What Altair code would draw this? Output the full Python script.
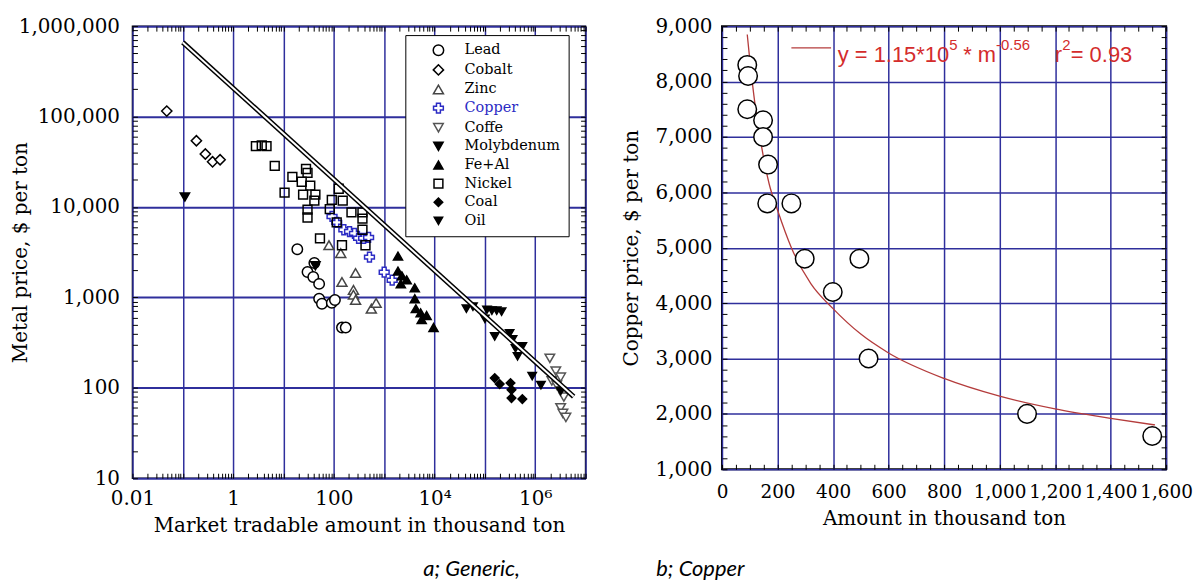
import altair as alt
import pandas as pd

SERIF = "DejaVu Serif"
GRID = "#2f2f9c"
RED = "#d42c2c"
CURVE = "#b43c3c"

# ---------------- panel a: generic ----------------
series = ["Lead", "Cobalt", "Zinc", "Copper", "Coffe", "Molybdenum", "Fe+Al", "Nickel", "Coal", "Oil"]

lead_x = [18.8, 41, 30, 39, 51, 51, 58, 91, 105, 145, 172]
lead_y = [3410, 2400, 1910, 1680, 1410, 966, 850, 870, 935, 464, 464]

cobalt_x = [0.048, 0.186, 0.28, 0.39, 0.55]
cobalt_y = [115000, 54000, 38500, 31600, 33300]

zinc_x = [80, 137, 270, 145, 245, 245, 270, 555, 690]
zinc_y = [3780, 3090, 1860, 1480, 1210, 1070, 935, 750, 870]

copper_x = [92, 114, 158, 205, 257, 310, 390, 490, 510, 1000, 1440]
copper_y = [7850, 6760, 5600, 5350, 5100, 4500, 4500, 4600, 2790, 1900, 1550]

coffe_x = [1.95e6, 2.56e6, 3.2e6, 2.14e6, 2.68e6, 3.2e6, 3.7e6, 3.2e6, 3.55e6, 4.07e6]
coffe_y = [212, 153, 131, 119, 107, 92, 79, 60, 52, 47]

moly_x = [0.11, 43]
moly_y = [12900, 2240]

feal_x = [1880, 1880, 2250, 2800, 2140, 4050, 4050, 4250, 5300, 6950, 5560, 9550]
feal_y = [2860, 1950, 1730, 1560, 1410, 1275, 966, 750, 675, 630, 568, 464]

nickel_x = [2.83, 3.7, 4.6, 6.7, 15, 10.5, 28, 30, 23, 34, 24.5, 43, 41, 30, 30,
            91, 125, 150, 83, 114, 224, 370, 370, 370, 53, 145, 425]
nickel_y = [47100, 48000, 47100, 28500, 21500, 14400, 26300, 23800, 19000, 17200, 13700, 13700, 11750, 9340, 7650,
            12000, 15900, 11750, 9450, 6760, 8700, 8700, 7420, 5600, 4500, 3770, 3770]

coal_x = [157000, 197000, 323000, 338000, 338000, 555000]
coal_y = [128, 110, 113, 95, 77, 75]

oil_x = [43000, 58000, 100000, 110000, 138000, 172000, 215000, 157000, 310000, 355000,
         405000, 445000, 555000, 870000, 1.3e6, 3.2e6]
oil_y = [750, 790, 580, 730, 713, 713, 695, 370, 400, 343, 273, 223, 287, 135, 107, 92]

trend_x = [0.1, 5.8e6]
trend_y = [6.6e5, 80]

# marker styling per series
shapes = ["circle", "diamond", "triangle-up", "cross", "triangle-down", "triangle-down",
          "triangle-up", "square", "diamond", "triangle-down"]
fills = ["white", "white", "white", "white", "white", "black", "black", "transparent", "black", "black"]
strokes = ["black", "black", "#454545", "#2b2bc4", "#555555", "black", "black", "black", "black", "black"]
sizes = [110, 70, 120, 55, 90, 170, 100, 90, 45, 60]

# ---------------- panel b: copper ----------------
cu_amount = [91, 94, 91, 148, 148, 166, 163, 250, 298, 495, 399, 528, 1099, 1550]
cu_price = [8300, 8100, 7500, 7300, 7000, 6500, 5800, 5800, 4800, 4800, 4200, 3000, 2000, 1600]

fit_amount = [91, 100, 120, 140, 170, 200, 250, 320, 400, 500, 600, 800, 1000, 1200, 1400, 1560]
fit_price = [8850, 8400, 7550, 6900, 6150, 5680, 5000, 4350, 3900, 3440, 3100, 2640, 2320, 2090, 1920, 1800]

legend_line_amount = [250, 393]
legend_line_price = [8609]
eq_anchor_amount = [417]
eq_anchor_price = [8360]

# ================= build panel a =================
pairs = [(lead_x, lead_y), (cobalt_x, cobalt_y), (zinc_x, zinc_y), (copper_x, copper_y),
         (coffe_x, coffe_y), (moly_x, moly_y), (feal_x, feal_y), (nickel_x, nickel_y),
         (coal_x, coal_y), (oil_x, oil_y)]
rows = []
for name, (xs, ys) in zip(series, pairs):
    for a, b in zip(xs, ys):
        rows.append({"series": name, "amount": a, "price": b})
df_a = pd.DataFrame(rows)
df_trend = pd.DataFrame({"amount": trend_x, "price": trend_y})

xa = alt.Scale(type="log", domain=[0.01, 1e7], nice=False)
ya = alt.Scale(type="log", domain=[10, 1e6], nice=False)

major_x = [0.01, 0.1, 1, 10, 100, 1000, 10000, 100000, 1000000, 10000000]
major_y = [10, 100, 1000, 10000, 100000, 1000000]
minor_x = [k * 10.0 ** d for d in range(-2, 7) for k in range(1, 10)] + [1e7]
minor_y = [k * 10.0 ** d for d in range(1, 6) for k in range(1, 10)] + [1e6]

x_lbl = ("datum.value == 0.01 ? '0.01' : datum.value == 1 ? '1' : datum.value == 100 ? '100' : "
         "datum.value == 10000 ? '10\u2074' : datum.value == 1000000 ? '10\u2076' : ''")

ax_a_x = alt.Axis(orient="bottom", values=major_x, labelExpr=x_lbl, grid=True, gridColor=GRID,
                  gridWidth=1.5, gridOpacity=1, ticks=False, domain=False, labelFont=SERIF,
                  labelFontSize=20, labelColor="black", labelPadding=10, labelFlush=False,
                  labelOverlap=False, title="Market tradable amount in thousand ton",
                  titleFont=SERIF, titleFontSize=20, titleFontWeight="normal", titleColor="black",
                  titlePadding=8)
ax_a_y = alt.Axis(orient="left", values=major_y, format=",.0f", grid=True, gridColor=GRID,
                  gridWidth=2, gridOpacity=1, ticks=False, domain=False, labelFont=SERIF,
                  labelFontSize=20, labelColor="black", labelPadding=13, labelFlush=False,
                  labelOverlap=False, title="Metal price, $ per ton", titleFont=SERIF,
                  titleFontSize=20, titleFontWeight="normal", titleColor="black", titlePadding=-12)


def tick_axis(orient, values):
    return alt.Axis(orient=orient, values=values, labels=False, grid=False, domain=False,
                    ticks=True, tickSize=5, tickColor="black", tickWidth=1, offset=-5, title=None)


leg = alt.Legend(title=None, orient="none", legendX=274, legendY=9, fillColor="white",
                 strokeColor="black", padding=8, labelFont=SERIF, labelFontSize=14.5,
                 labelColor={"expr": "datum.label == 'Copper' ? '#2b2bc4' : 'black'"},
                 symbolStrokeWidth=1.5, rowPadding=2.7, labelOffset=19, symbolOffset=18)

points_a = alt.Chart(df_a).mark_point(filled=True, strokeWidth=1.5, opacity=1).encode(
    x=alt.X("amount:Q", scale=xa, axis=ax_a_x),
    y=alt.Y("price:Q", scale=ya, axis=ax_a_y),
    shape=alt.Shape("series:N", scale=alt.Scale(domain=series, range=shapes), legend=leg),
    fill=alt.Fill("series:N", scale=alt.Scale(domain=series, range=fills)),
    stroke=alt.Stroke("series:N", scale=alt.Scale(domain=series, range=strokes)),
    size=alt.Size("series:N", scale=alt.Scale(domain=series, range=sizes)),
)

ticks_a1 = alt.Chart(df_a).mark_point(opacity=0).encode(
    x=alt.X("amount:Q", scale=xa, axis=tick_axis("bottom", minor_x)),
    y=alt.Y("price:Q", scale=ya, axis=tick_axis("left", minor_y)),
)
ticks_a2 = alt.Chart(df_a).mark_point(opacity=0).encode(
    x=alt.X("amount:Q", scale=xa, axis=tick_axis("top", minor_x)),
    y=alt.Y("price:Q", scale=ya, axis=tick_axis("right", minor_y)),
)

trend_black = alt.Chart(df_trend).mark_line(color="black", strokeWidth=5, strokeCap="butt").encode(
    x=alt.X("amount:Q", scale=xa, axis=None), y=alt.Y("price:Q", scale=ya, axis=None))
trend_white = alt.Chart(df_trend).mark_line(color="white", strokeWidth=2, strokeCap="butt").encode(
    x=alt.X("amount:Q", scale=xa, axis=None), y=alt.Y("price:Q", scale=ya, axis=None))

cap_a = alt.Chart(pd.DataFrame({"t": ["a; Generic,"]})).mark_text(
    font="Lato", fontStyle="italic", fontSize=22, align="left", baseline="alphabetic", color="black"
).encode(x=alt.value(292), y=alt.value(552), text="t:N")

left = alt.layer(ticks_a1, ticks_a2, points_a, trend_black, trend_white, cap_a).resolve_axis(
    x="independent", y="independent"
).properties(width=455, height=454, view=alt.ViewBackground(stroke="black", strokeWidth=1.5))

# ================= build panel b =================
df_cu = pd.DataFrame({"amount": cu_amount, "price": cu_price})
df_fit = pd.DataFrame({"amount": fit_amount, "price": fit_price})
df_legline = pd.DataFrame({"amount": [legend_line_amount[0]], "amount2": [legend_line_amount[1]],
                           "price": legend_line_price})
df_eq = pd.DataFrame({"amount": eq_anchor_amount, "price": eq_anchor_price})

xb = alt.Scale(domain=[0, 1600], nice=False, zero=False)
yb = alt.Scale(domain=[1000, 9000], nice=False, zero=False)

ax_b_x = alt.Axis(orient="bottom", values=list(range(0, 1601, 200)), format=",d", grid=True,
                  gridColor=GRID, gridWidth=1.5, gridOpacity=1, ticks=False, domain=False,
                  labelFont=SERIF, labelFontSize=18.5, labelColor="black", labelPadding=13,
                  labelFlush=False, labelOverlap=False, title="Amount in thousand ton",
                  titleFont=SERIF, titleFontSize=20, titleFontWeight="normal", titleColor="black",
                  titlePadding=8)
ax_b_y = alt.Axis(orient="left", values=list(range(1000, 9001, 1000)), format=",d", grid=True,
                  gridColor=GRID, gridWidth=1.5, gridOpacity=1, ticks=False, domain=False,
                  labelFont=SERIF, labelFontSize=20, labelColor="black", labelPadding=10,
                  labelFlush=False, labelOverlap=False, title="Copper price, $ per ton",
                  titleFont=SERIF, titleFontSize=20, titleFontWeight="normal", titleColor="black",
                  titlePadding=14)

minor_bx = list(range(0, 1601, 50))
minor_by = list(range(1000, 9001, 200))

ticks_b1 = alt.Chart(df_cu).mark_point(opacity=0).encode(
    x=alt.X("amount:Q", scale=xb, axis=tick_axis("bottom", minor_bx)),
    y=alt.Y("price:Q", scale=yb, axis=tick_axis("left", minor_by)),
)
ticks_b2 = alt.Chart(df_cu).mark_point(opacity=0).encode(
    x=alt.X("amount:Q", scale=xb, axis=tick_axis("top", minor_bx)),
    y=alt.Y("price:Q", scale=yb, axis=tick_axis("right", minor_by)),
)

fit_line = alt.Chart(df_fit).mark_line(color=CURVE, strokeWidth=1.3, interpolate="monotone").encode(
    x=alt.X("amount:Q", scale=xb, axis=ax_b_x), y=alt.Y("price:Q", scale=yb, axis=ax_b_y))

circles = alt.Chart(df_cu).mark_point(shape="circle", filled=True, fill="white", stroke="black",
                                      strokeWidth=1.5, size=346, opacity=1).encode(
    x=alt.X("amount:Q", scale=xb, axis=None), y=alt.Y("price:Q", scale=yb, axis=None))

leg_line = alt.Chart(df_legline).mark_rule(color=CURVE, strokeWidth=1.3).encode(
    x=alt.X("amount:Q", scale=xb, axis=None), x2="amount2:Q",
    y=alt.Y("price:Q", scale=yb, axis=None))

pieces = [("y = 1.15*10", 0, 0, 22), ("5", 112, -12, 15), ("* m", 126, 0, 22),
          ("-0.56", 159, -12, 15), ("r", 218, 0, 22), ("2", 225.5, -12, 15), ("= 0.93", 234, 0, 22)]
eq_layers = []
for t, dx, dy, fs in pieces:
    eq_layers.append(
        alt.Chart(df_eq).mark_text(align="left", baseline="alphabetic", dx=dx, dy=dy,
                                   font="Liberation Sans", fontSize=fs, color=RED).encode(
            x=alt.X("amount:Q", scale=xb, axis=None), y=alt.Y("price:Q", scale=yb, axis=None),
            text=alt.value(t))
    )

cap_b = alt.Chart(pd.DataFrame({"t": ["b; Copper"]})).mark_text(
    font="Lato", fontStyle="italic", fontSize=22, align="left", baseline="alphabetic", color="black"
).encode(x=alt.value(-66), y=alt.value(552), text="t:N")

right = alt.layer(ticks_b1, ticks_b2, fit_line, circles, leg_line, *eq_layers, cap_b).resolve_axis(
    x="independent", y="independent"
).properties(width=446, height=445, view=alt.ViewBackground(stroke="black", strokeWidth=2))

chart = alt.hconcat(left, right, spacing=32,
                    padding={"left": 1, "top": 6, "right": 0, "bottom": 0}).configure(
    background="white")

chart.save("out.html", embed_options={"renderer": "svg", "actions": False})
